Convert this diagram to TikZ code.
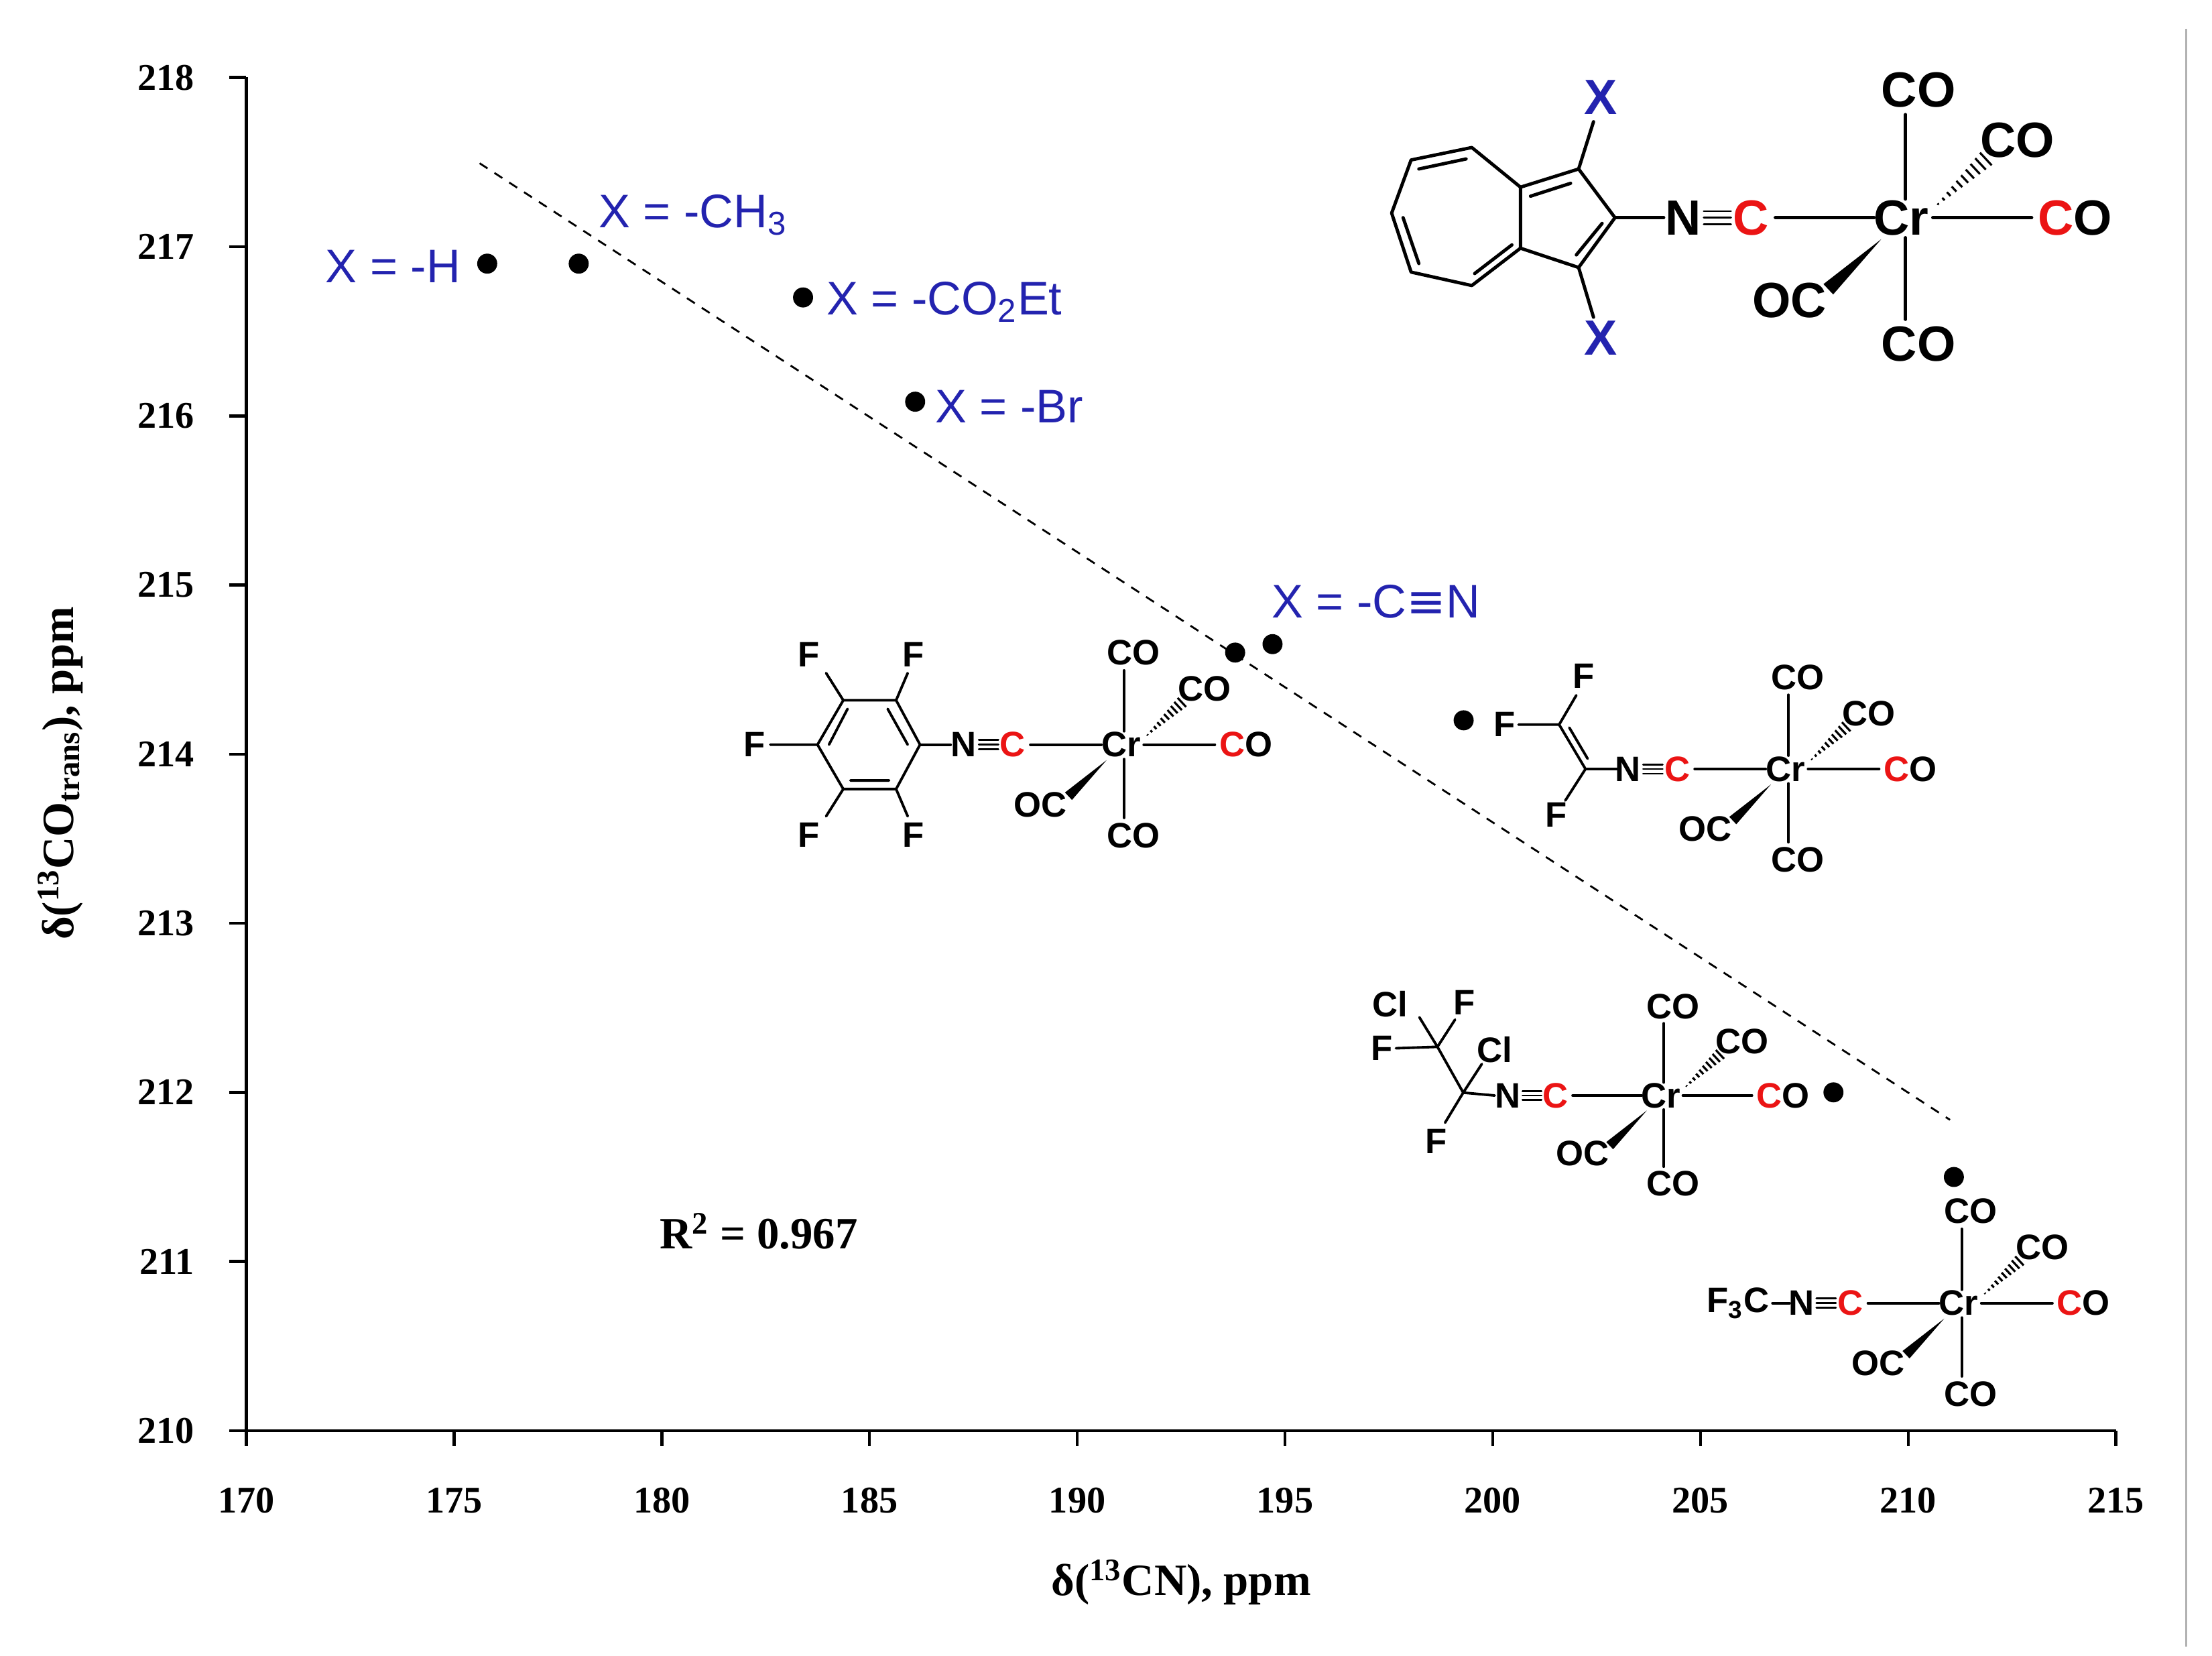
\documentclass[tikz,border=0pt]{standalone}
\usepackage{fontspec}
\setmainfont{Liberation Serif}
\setsansfont{Liberation Sans}
\newfontfamily\djv{DejaVu Sans}
\definecolor{xblue}{RGB}{35,35,175}
\definecolor{mred}{RGB}{235,20,20}
\newlength\pxu
\setlength\pxu{0.021359cm}
\newcommand\molfont{\sffamily\bfseries\fontsize{15}{18}\selectfont}
\tikzset{
  bond/.style={line width=1.1pt, line cap=round},
  lab/.style={inner sep=0pt, font=\molfont},
  dot/.style={circle, fill=black, inner sep=0pt, minimum size=14\pxu},
  xlab/.style={inner sep=0pt, text=xblue, font=\sffamily\fontsize{20}{24}\selectfont},
  tick/.style={font=\bfseries\fontsize{16}{19}\selectfont, inner sep=0pt},
  axis/.style={line width=1.3pt}
}
% #1 name, #2 x, #3 y, #4 scale
\newcommand\crfrag[4]{%
\begin{scope}[shift={(#2,#3)}, scale=#4]
  \node[lab] (#1Cr) at (0,0) {Cr};
  \node[lab] (#1C) at (-105,0) {\textcolor{mred}{C}};
  \node[lab] (#1N) at (-152.5,0) {N};
  \draw[bond, line width=0.8pt] (-138,-4.5)--(-119,-4.5) (-138,0)--(-119,0) (-138,4.5)--(-119,4.5);
  \draw[bond] (-88,0)--(-19,0) (22,0)--(91,0);
  \draw[bond] (3,-72)--(3,-13) (3,14)--(3,71);
  \node[lab] (#1t) at (12,-89) {CO};
  \node[lab] (#1b) at (12,88) {CO};
  \node[lab,anchor=west] (#1r) at (95,0) {\textcolor{mred}{C}O};
  \node[lab] (#1u) at (81,-54) {CO};
  \node[lab] (#1o) at (-78,58) {OC};
  \foreach \i in {0,...,10}
    \draw[line width=0.9pt] ({22+3.7*\i-0.41*\i},{-6-3.5*\i-0.44*\i}) -- ({22+3.7*\i+0.41*\i},{-6-3.5*\i+0.44*\i});
  \fill (-14,15) -- (-47.6,53.6) -- (-54.4,46.4) -- cycle;
\end{scope}}
\begin{document}
\begin{tikzpicture}[x=\pxu, y=-\pxu]
\useasboundingbox (0,0) rectangle (1545,1156);
\fill[white] (0,0) rectangle (1545,1156);
\draw[gray!60, line width=0.8pt] (1527,20) -- (1527,1150);
% axes
\coordinate (O) at (172,999);
\coordinate (XE) at (1478,999);
\coordinate (YE) at (172,54);
\draw[axis] (YE) -- (O) -- (XE);
\foreach \v [count=\k from 0] in {210,...,218} {
  \draw[axis] (160,{999-118.1*\k}) -- (172,{999-118.1*\k});
  \node[tick, anchor=east] at (136,{999-118.1*\k}) {\v};
}
\foreach \v [count=\k from 0] in {170,175,...,215} {
  \draw[axis] ({172+145.1*\k},999) -- ({172+145.1*\k},1010);
  \node[tick] at ({172+145.1*\k},1048) {\v};
}
\node[font=\bfseries\fontsize{19}{23}\selectfont] at (825,1105) {δ(\textsuperscript{13}CN), ppm};
\node[font=\bfseries\fontsize{19}{23}\selectfont, rotate=90] at (42,540) {δ(\textsuperscript{13}CO\textsubscript{trans}), ppm};
\node[font=\bfseries\fontsize{19}{23}\selectfont] at (530,860) {R\textsuperscript{2} = 0.967};
% trend line
\coordinate (L1) at (335,114);
\coordinate (L2) at (1362,782);
\draw[line width=0.8pt, dash pattern=on 4pt off 3.5pt] (L1) -- (L2);
% data
\node[dot] (p1) at (340.3,184.1) {};
\node[dot] (p2) at (404.2,184.1) {};
\node[dot] (p3) at (560.9,207.7) {};
\node[dot] (p4) at (639.2,280.5) {};
\node[dot] (p5) at (862.7,455.7) {};
\node[dot] (p6) at (888.8,449.8) {};
\node[dot] (p7) at (1022.3,503) {};
\node[dot] (p8) at (1280.6,762.8) {};
\node[dot] (p9) at (1364.7,821.9) {};
\node[xlab, anchor=east] (l1) at (322,186) {X = -H};
\node[xlab, anchor=west] (l2) at (418,150) {X = -CH\textsubscript{3}};
\node[xlab, anchor=west] (l3) at (577,211) {X = -CO\textsubscript{2}Et};
\node[xlab, anchor=west] (l4) at (653,284) {X = -Br};
\node[xlab, anchor=west] (l5) at (888,420) {X = -C{\djv ≡}N};
% top molecule
\begingroup
\renewcommand\molfont{\sffamily\bfseries\fontsize{21}{25}\selectfont}
\tikzset{bond/.style={line width=1.4pt, line cap=round, line join=round}}
\crfrag{A}{1328}{152}{1}
\draw[bond] (1128,152) -- (1102.6,118) -- (1062,130.7) -- (1062,173.3) -- (1102.6,186.8) -- cycle;
\draw[bond] (1062,130.7) -- (1028,103) -- (985.6,111.7) -- (972,148.8) -- (985.6,190) -- (1028,199.4) -- (1062,173.3);
\draw[bond] (1024,111)--(991,118) (980,152)--(991,184) (1030,191)--(1056,171) (1069,137)--(1097,128) (1119,156)--(1101,178);
\draw[bond] (1128,152) -- (1162,152);
\draw[bond] (1102.6,118) -- (1113,85) (1102.6,186.8) -- (1113,221.5);
\node[lab, text=xblue] (AX1) at (1118,68) {X};
\node[lab, text=xblue] (AX2) at (1118,236) {X};
\endgroup
% C6F5 complex
\crfrag{B}{783}{520}{0.72}
\draw[bond, line join=round] (642.6,520) -- (625.9,489) -- (589,489) -- (571,520) -- (589,551) -- (625.9,551) -- cycle;
\draw[bond] (620,495)--(634,520) (592,495)--(579,520) (594,545)--(621,545);
\draw[bond] (642.6,520)--(664,520);
\draw[bond] (589,489)--(577,470) (625.9,489)--(634,470) (571,520)--(538,520) (589,551)--(577,570) (625.9,551)--(634,570);
\node[lab] (BF1) at (565,457) {F};
\node[lab] (BF2) at (638,457) {F};
\node[lab] (BF3) at (527,520) {F};
\node[lab] (BF4) at (565,583) {F};
\node[lab] (BF5) at (638,583) {F};
% trifluorovinyl complex
\crfrag{C}{1247}{537}{0.72}
\begin{scope}[shift={(1137,537)}]
\draw[bond] (-6,0)--(-29.6,0)--(-48,-31)--(-36,-51.5);
\draw[bond] (-48,-31)--(-76.4,-31) (-29.6,0)--(-43.7,22);
\draw[bond] (-40.9,-28.9)--(-28.1,-7.2);
\node[lab] (CF1) at (-31,-65) {F};
\node[lab] (CF2) at (-86,-31) {F};
\node[lab] (CF3) at (-50,32) {F};
\end{scope}
% chlorofluoroethyl complex
\crfrag{D}{1160}{765}{0.7}
\begin{scope}[shift={(1053,765)}]
\draw[bond] (-9,0)--(-31,-2)--(-49,-34);
\draw[bond] (-31,-2)--(-18,-22) (-31,-2)--(-43.7,19);
\draw[bond] (-49,-34)--(-78,-33) (-49,-34)--(-61.6,-54.6) (-49,-34)--(-36.7,-53);
\node[lab] (DCl1) at (-9,-32) {Cl};
\node[lab] (DF1) at (-50,32) {F};
\node[lab] (DF2) at (-88,-33) {F};
\node[lab] (DCl2) at (-82,-64) {Cl};
\node[lab] (DF3) at (-30,-65) {F};
\end{scope}
% CF3 complex
\crfrag{E}{1368}{910}{0.72}
\node[lab, anchor=east] (EF) at (1236,910) {F\textsubscript{3}C};
\draw[bond] (1238,910)--(1250,910);
\end{tikzpicture}
\end{document}
